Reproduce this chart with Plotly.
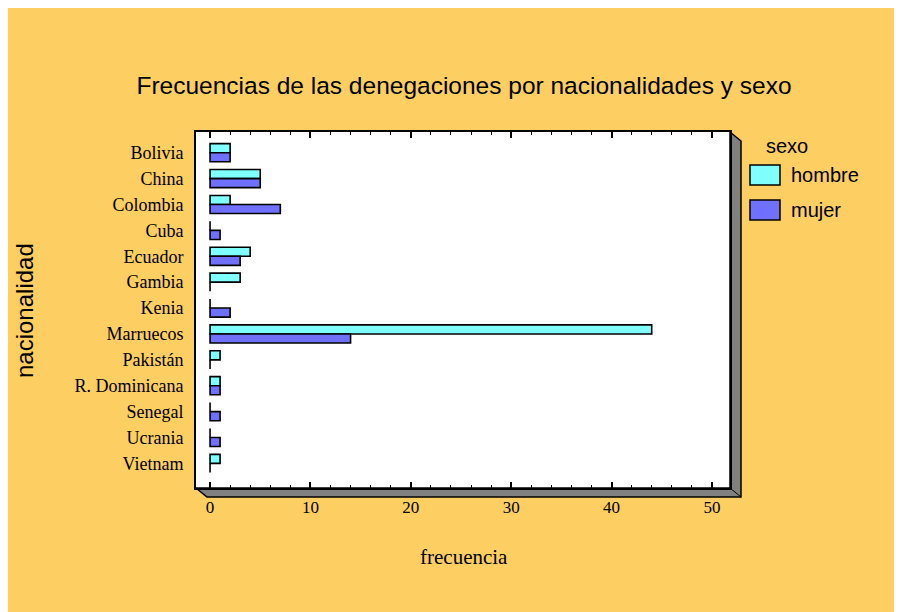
import plotly.graph_objects as go

# ---- data ----
nacionalidades = ["Bolivia", "China", "Colombia", "Cuba", "Ecuador", "Gambia", "Kenia",
                  "Marruecos", "Pakistán", "R. Dominicana", "Senegal", "Ucrania", "Vietnam"]
hombre = [2, 5, 2, 0, 4, 3, 0, 44, 1, 1, 0, 0, 1]
mujer = [2, 5, 7, 1, 3, 0, 2, 14, 0, 1, 1, 1, 0]
series_names = ["hombre", "mujer"]
x_ticks = [0, 10, 20, 30, 40, 50]

BG = "#FDCE62"
C_H = "#80FFFF"
C_M = "#7070FF"

W, H = 902, 612
OFF = 8  # page body margin
L, R, T, B = 196 - OFF, 730 - OFF, 132 - OFF, 488 - OFF


def px(x):
    return (x - OFF - L) / (R - L)


def py(y):
    return (B - (y - OFF)) / (B - T)


fig = go.Figure()
fig.add_trace(go.Bar(y=nacionalidades, x=hombre, orientation="h", name=series_names[0],
                     marker=dict(color=C_H, line=dict(color="black", width=1.6))))
fig.add_trace(go.Bar(y=nacionalidades, x=mujer, orientation="h", name=series_names[1],
                     marker=dict(color=C_M, line=dict(color="black", width=1.6))))

shapes = []
# 3D shadow (screen coords)
Ls, Rs, Ts, Bs = 196, 730, 132, 488
dx, dy = 11, 9
path = "M {},{} L {},{} L {},{} L {},{} L {},{} L {},{} Z".format(
    px(Rs), py(Ts), px(Rs + dx), py(Ts + dy), px(Rs + dx), py(Bs + dy),
    px(Ls + dx), py(Bs + dy), px(Ls), py(Bs), px(Rs), py(Bs))
shapes.append(dict(type="path", xref="paper", yref="paper", path=path,
                   fillcolor="#808080", line=dict(color="black", width=1.5), layer="below"))
shapes.append(dict(type="line", xref="paper", yref="paper", x0=px(Rs), y0=py(Bs), x1=px(Rs + dx), y1=py(Bs + dy),
                   line=dict(color="black", width=1)))
# legend boxes
shapes.append(dict(type="rect", xref="paper", yref="paper", x0=px(750), x1=px(780), y0=py(185), y1=py(165),
                   fillcolor=C_H, line=dict(color="black", width=1.5)))
shapes.append(dict(type="rect", xref="paper", yref="paper", x0=px(750), x1=px(780), y0=py(220), y1=py(200),
                   fillcolor=C_M, line=dict(color="black", width=1.5)))

annotations = [
    dict(text="nacionalidad", xref="paper", yref="paper", x=px(24), y=py(311), textangle=-90,
         showarrow=False, font=dict(family="Liberation Sans", size=24, color="black"),
         xanchor="center", yanchor="middle"),
    dict(text="frecuencia", xref="paper", yref="paper", x=px(464), y=py(557),
         showarrow=False, font=dict(family="Liberation Serif", size=21, color="black"),
         xanchor="center", yanchor="middle"),
    dict(text="sexo", xref="paper", yref="paper", x=px(764), y=py(146),
         showarrow=False, font=dict(family="Liberation Sans", size=20, color="black"),
         xanchor="left", yanchor="middle"),
    dict(text=series_names[0], xref="paper", yref="paper", x=px(789), y=py(175),
         showarrow=False, font=dict(family="Liberation Sans", size=20, color="black"),
         xanchor="left", yanchor="middle"),
    dict(text=series_names[1], xref="paper", yref="paper", x=px(789), y=py(210),
         showarrow=False, font=dict(family="Liberation Sans", size=20, color="black"),
         xanchor="left", yanchor="middle"),
]

fig.update_layout(
    width=W, height=H,
    margin=dict(l=L, r=W - R, t=T, b=H - B, pad=0),
    paper_bgcolor=BG, plot_bgcolor="white",
    barmode="group", bargap=0.3, bargroupgap=0,
    showlegend=False,
    title=dict(text="Frecuencias de las denegaciones por nacionalidades y sexo",
               font=dict(family="Liberation Sans", size=24.5, color="black"),
               x=(464 - OFF) / W, xanchor="center", xref="container",
               y=1 - (85 - OFF) / H, yanchor="middle", yref="container"),
    xaxis=dict(range=[-1.4, 51.8], tickvals=x_ticks, showgrid=False, zeroline=False,
               showline=True, linecolor="black", linewidth=2, mirror="ticks",
               ticks="inside", ticklen=6, tickwidth=1.5, tickcolor="black",
               minor=dict(dtick=2, ticks="inside", ticklen=3, tickcolor="black", tickwidth=1),
               tickfont=dict(family="Liberation Serif", size=17, color="black"),
               ticklabelstandoff=3),
    yaxis=dict(categoryorder="array", categoryarray=nacionalidades,
               range=[12.95, -0.8], showgrid=False, zeroline=False,
               showline=True, linecolor="black", linewidth=2, mirror=True,
               ticks="", tickfont=dict(family="Liberation Serif", size=18, color="black"),
               ticklabelstandoff=7),
    shapes=shapes, annotations=annotations,
)

fig.write_html("out.html")
